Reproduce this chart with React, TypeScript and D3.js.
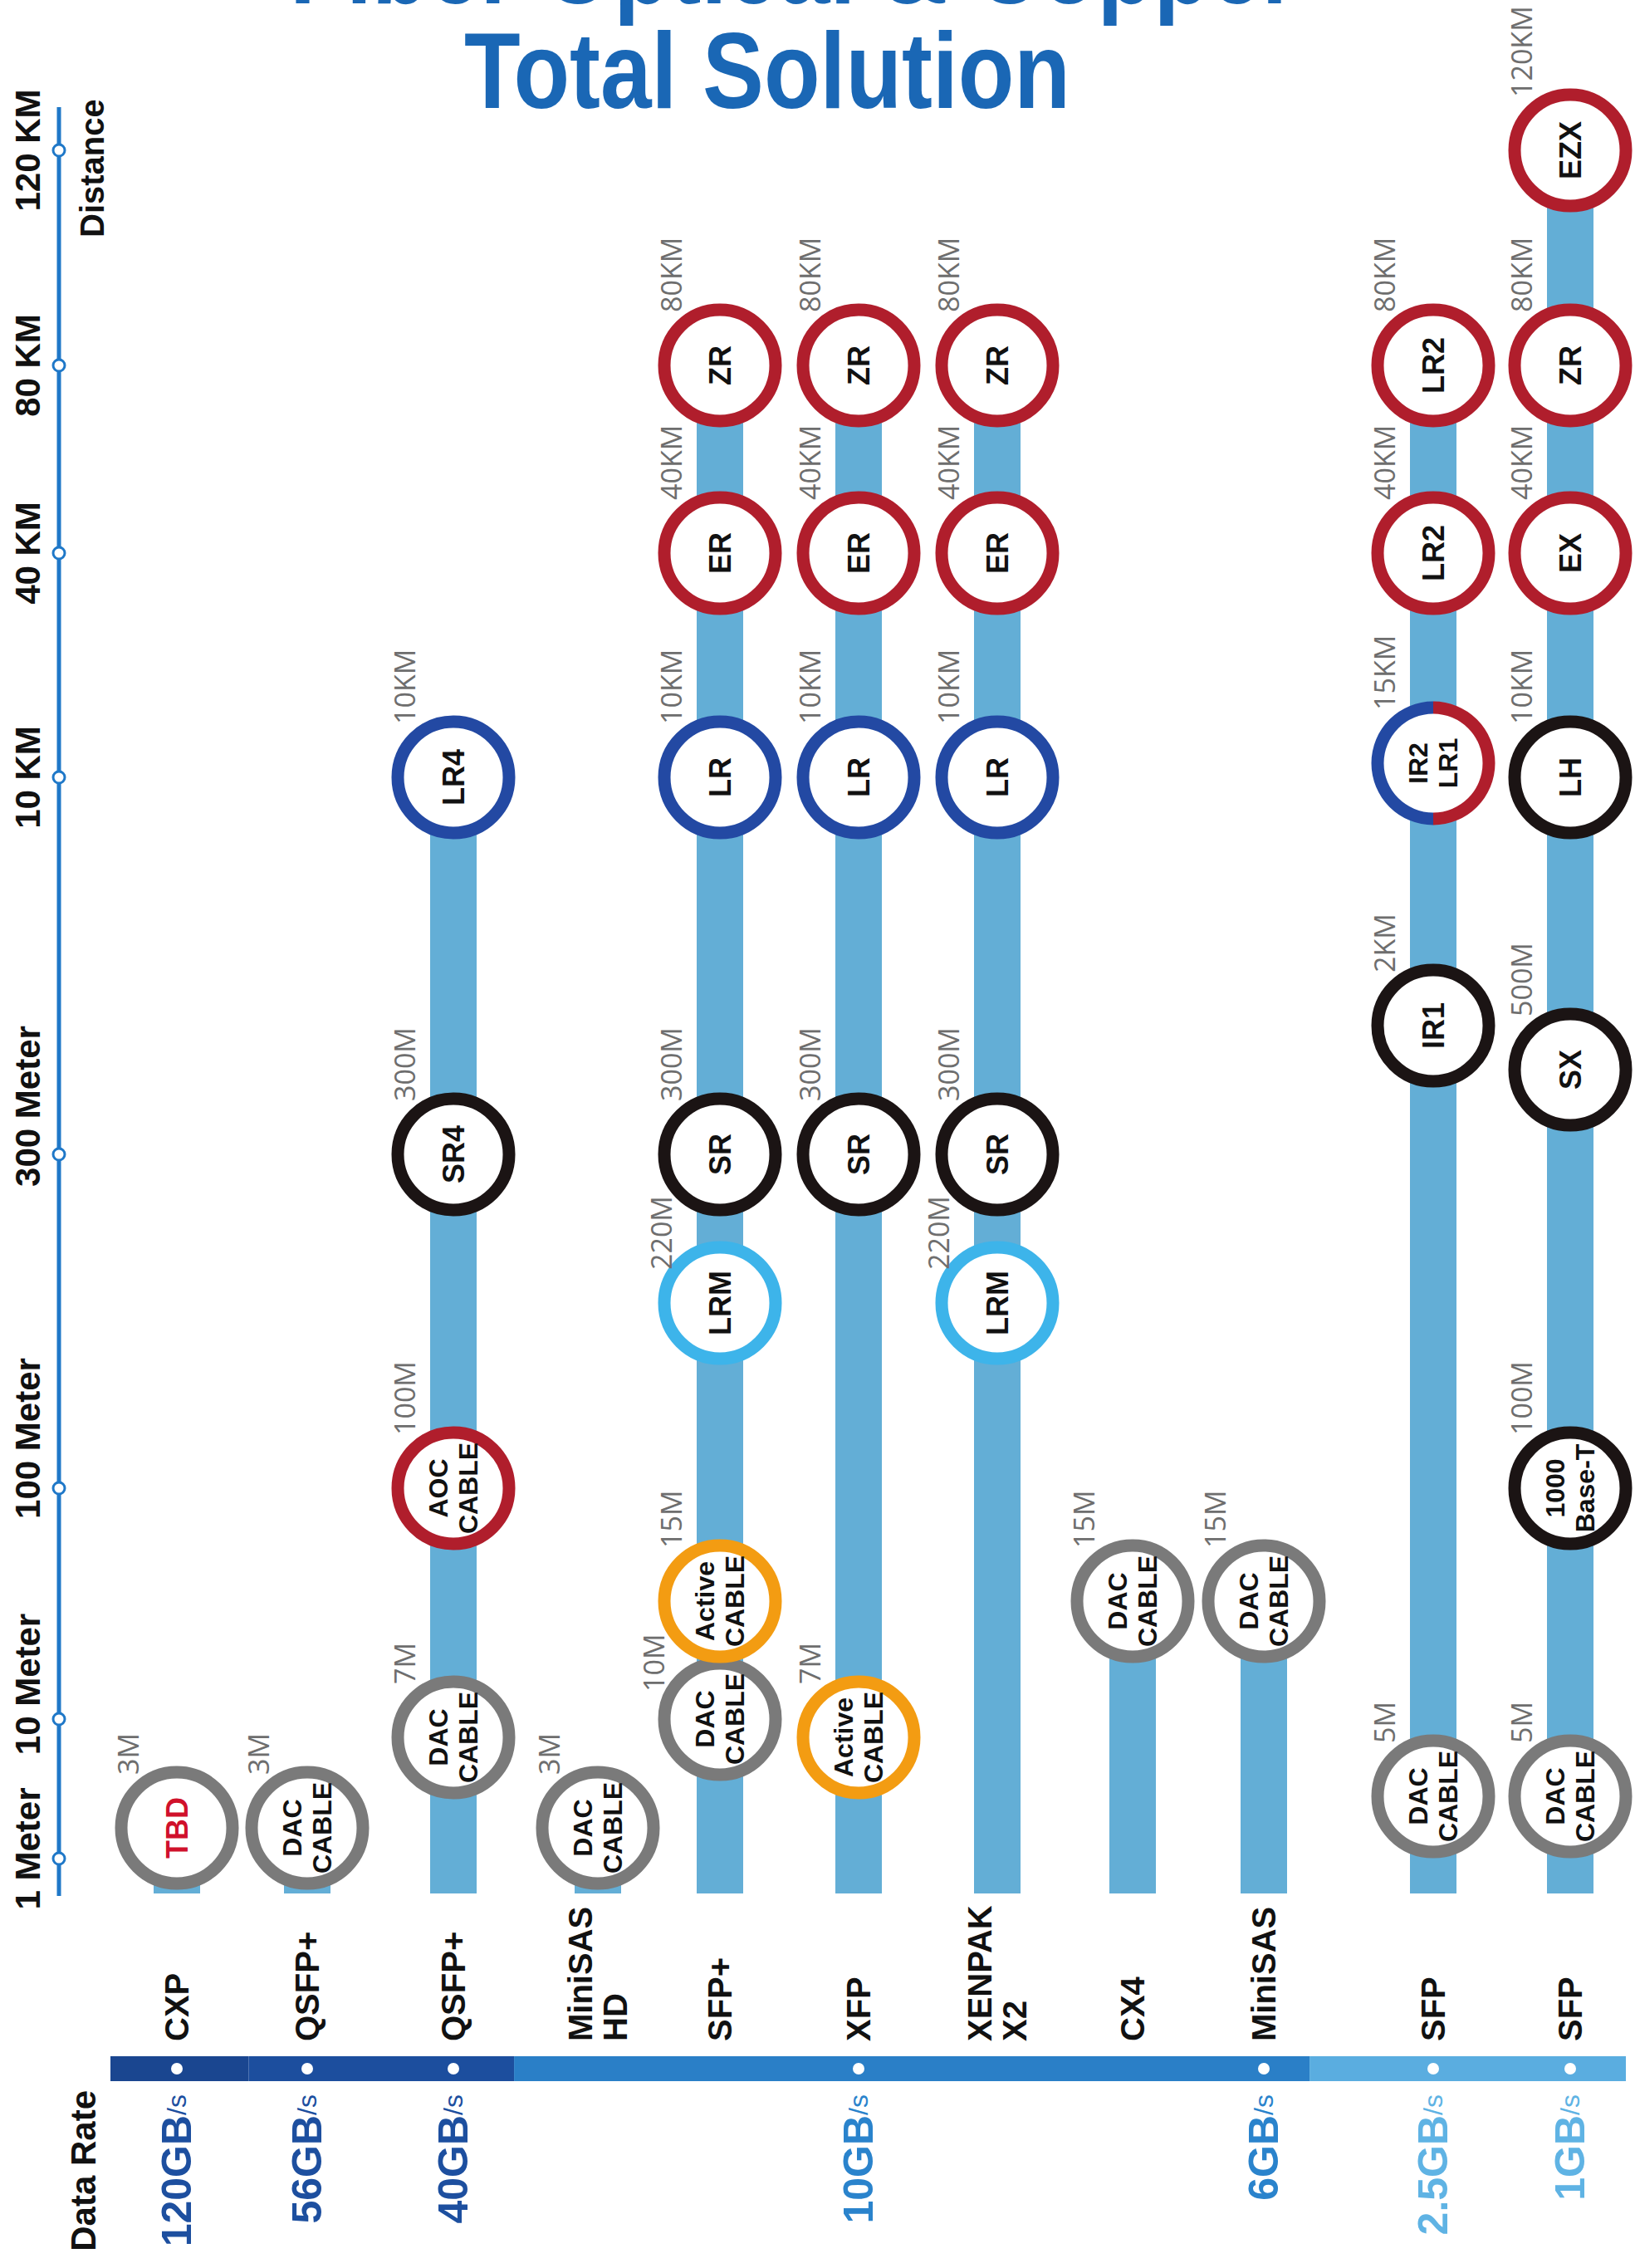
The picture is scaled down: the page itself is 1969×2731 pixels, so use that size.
import React from 'react';
import * as d3 from 'd3';

// ---------- DATA ----------
const columnIds = ['cxp', 'qsfp56', 'qsfp40', 'minisashd', 'sfpplus', 'xfp', 'xenpak', 'cx4', 'minisas', 'sfp25', 'sfp1'];
const columnLabels: string[][] = [['CXP'], ['QSFP+'], ['QSFP+'], ['MiniSAS', 'HD'], ['SFP+'], ['XFP'], ['XENPAK', 'X2'], ['CX4'], ['MiniSAS'], ['SFP'], ['SFP']];

// data rate labels: [rate, column]
const dataRates: [string, string][] = [
  ['120GB', 'cxp'], ['56GB', 'qsfp56'], ['40GB', 'qsfp40'], ['10GB', 'xfp'], ['6GB', 'minisas'], ['2.5GB', 'sfp25'], ['1GB', 'sfp1'],
];
// data-rate bar groups (first col, last col, tier)
const rateGroups: [string, string, number][] = [
  ['cxp', 'cxp', 0], ['qsfp56', 'qsfp40', 1], ['minisashd', 'minisas', 2], ['sfp25', 'sfp1', 3],
];
const rateTier: Record<string, number> = { '120GB': 0, '56GB': 0, '40GB': 0, '10GB': 1, '6GB': 1, '2.5GB': 2, '1GB': 2 };

// modules: [column, name, distance (m), range label, ring kind]
const modules: [string, string, number, string, string][] = [
  ['cxp', 'TBD', 3, '3M', 'gray'],
  ['qsfp56', 'DAC\nCABLE', 3, '3M', 'gray'],
  ['qsfp40', 'DAC\nCABLE', 7, '7M', 'gray'],
  ['qsfp40', 'AOC\nCABLE', 100, '100M', 'red'],
  ['qsfp40', 'SR4', 300, '300M', 'black'],
  ['qsfp40', 'LR4', 10000, '10KM', 'blue'],
  ['minisashd', 'DAC\nCABLE', 3, '3M', 'gray'],
  ['sfpplus', 'DAC\nCABLE', 10, '10M', 'gray'],
  ['sfpplus', 'Active\nCABLE', 15, '15M', 'orange'],
  ['sfpplus', 'LRM', 220, '220M', 'lightblue'],
  ['sfpplus', 'SR', 300, '300M', 'black'],
  ['sfpplus', 'LR', 10000, '10KM', 'blue'],
  ['sfpplus', 'ER', 40000, '40KM', 'red'],
  ['sfpplus', 'ZR', 80000, '80KM', 'red'],
  ['xfp', 'Active\nCABLE', 7, '7M', 'orange'],
  ['xfp', 'SR', 300, '300M', 'black'],
  ['xfp', 'LR', 10000, '10KM', 'blue'],
  ['xfp', 'ER', 40000, '40KM', 'red'],
  ['xfp', 'ZR', 80000, '80KM', 'red'],
  ['xenpak', 'LRM', 220, '220M', 'lightblue'],
  ['xenpak', 'SR', 300, '300M', 'black'],
  ['xenpak', 'LR', 10000, '10KM', 'blue'],
  ['xenpak', 'ER', 40000, '40KM', 'red'],
  ['xenpak', 'ZR', 80000, '80KM', 'red'],
  ['cx4', 'DAC\nCABLE', 15, '15M', 'gray'],
  ['minisas', 'DAC\nCABLE', 15, '15M', 'gray'],
  ['sfp25', 'DAC\nCABLE', 5, '5M', 'gray'],
  ['sfp25', 'IR1', 2000, '2KM', 'black'],
  ['sfp25', 'IR2\nLR1', 15000, '15KM', 'split'],
  ['sfp25', 'LR2', 40000, '40KM', 'red'],
  ['sfp25', 'LR2', 80000, '80KM', 'red'],
  ['sfp1', 'DAC\nCABLE', 5, '5M', 'gray'],
  ['sfp1', '1000\nBase-T', 100, '100M', 'black'],
  ['sfp1', 'SX', 500, '500M', 'black'],
  ['sfp1', 'LH', 10000, '10KM', 'black'],
  ['sfp1', 'EX', 40000, '40KM', 'red'],
  ['sfp1', 'ZR', 80000, '80KM', 'red'],
  ['sfp1', 'EZX', 120000, '120KM', 'red'],
];

const distanceTicks: [number, string][] = [
  [1, '1 Meter'], [10, '10 Meter'], [100, '100 Meter'], [300, '300 Meter'],
  [10000, '10 KM'], [40000, '40 KM'], [80000, '80 KM'], [120000, '120 KM'],
];

const titleTop = 'Fiber Optical & Copper';
const title = 'Total Solution';

// ---------- LAYOUT ----------
const W = 1969;
const H = 2731;
// the infographic's distance axis is non-uniform: piecewise stops
const distStops = [1, 3, 5, 7, 10, 15, 100, 220, 300, 500, 2000, 10000, 15000, 40000, 80000, 120000];
const distPos = [2238, 2201, 2163, 2092, 2070, 1928, 1792, 1569, 1390, 1288, 1235, 936, 919, 666, 440, 181];
const colPos = [213, 370, 546, 720, 867, 1034, 1201, 1364, 1522, 1726, 1891];
const groupBoundaryFrac = [0.55, 0.42, 0.27];
const tickLabelShift: Record<string, number> = { '1 Meter': -12, '10 Meter': -42, '100 Meter': -60, '300 Meter': -58 };

const y = d3.scaleLinear().domain(distStops).range(distPos);
const x = d3.scaleOrdinal<string, number>().domain(columnIds).range(colPos);

const ringColor: Record<string, string> = {
  gray: '#7a7a7a', red: '#b01e2c', blue: '#2349a3', lightblue: '#3db4ea', black: '#1b1414', orange: '#f39c12',
};
const rateBarColors = ['#1a4690', '#1c4e9e', '#2a7fc7', '#5aade0'];
const rateTextColors = ['#1d4f9f', '#2a83cc', '#5fb3e4'];

const BAR_BOTTOM = 2280;
const BAR_W = 56;
const R = 67;
const RING = 15;
const AXIS_X = 71;
const RATE_Y0 = 2476;
const RATE_H = 30;

const boldFont = "'Liberation Sans', Arial, sans-serif";
const lightFont = "'Open Sans', 'Noto Sans', sans-serif";

function rot(px: number, py: number) {
  return `translate(${px},${py}) rotate(-90)`;
}

export default function App() {
  const topByCol: Record<string, number> = {};
  modules.forEach(([c, , d]) => {
    topByCol[c] = Math.max(topByCol[c] ?? 0, d);
  });
  const sorted = [...modules].sort((a, b) => a[2] - b[2]);
  const arcBlue = d3.arc()({ innerRadius: R - RING / 2, outerRadius: R + RING / 2, startAngle: Math.PI, endAngle: 2 * Math.PI }) as string;
  const arcRed = d3.arc()({ innerRadius: R - RING / 2, outerRadius: R + RING / 2, startAngle: 0, endAngle: Math.PI }) as string;

  // gap (px) to the next ring above in the same column
  const gapAbove = (c: string, d: number) => {
    const above = modules.filter((m) => m[0] === c && m[2] > d).map((m) => y(m[2]));
    return above.length ? y(d) - Math.max(...above) : 999;
  };

  const rateBounds: number[] = [];
  for (let i = 0; i < rateGroups.length; i++) {
    const [a, b] = rateGroups[i];
    const ia = columnIds.indexOf(a);
    const ib = columnIds.indexOf(b);
    const x0 = ia === 0 ? x(a) - 80 : rateBounds[rateBounds.length - 1];
    const x1 = ib === columnIds.length - 1 ? x(b) + 67 : x(b) + groupBoundaryFrac[i] * (x(columnIds[ib + 1]) - x(b));
    if (i === 0) rateBounds.push(x0);
    rateBounds.push(x1);
  }

  return (
    <svg width={W} height={H} viewBox={`0 0 ${W} ${H}`} style={{ position: 'absolute', left: 0, top: 0, background: '#fff' }}>
      <rect x={0} y={0} width={W} height={H} fill="#fff" />
      {/* titles */}
      <text x={349} y={4} fontFamily={boldFont} fontWeight={700} fontSize={130} fill="#1a67b5" textLength={1214} lengthAdjust="spacingAndGlyphs">{titleTop}</text>
      <text x={559} y={130} fontFamily={boldFont} fontWeight={700} fontSize={130} fill="#1a67b5" textLength={730} lengthAdjust="spacingAndGlyphs">{title}</text>

      {/* distance axis */}
      <line x1={AXIS_X} x2={AXIS_X} y1={129} y2={2283} stroke="#1f78c8" strokeWidth={5} />
      {distanceTicks.map(([v, label]) => (
        <g key={label}>
          <circle cx={AXIS_X} cy={y(v)} r={7} fill="#fff" stroke="#1f78c8" strokeWidth={3} />
          <text transform={rot(48, y(v) + (tickLabelShift[label] ?? 0))} textAnchor="middle" fontFamily={boldFont} fontWeight={700} fontSize={42} fill="#111">{label}</text>
        </g>
      ))}
      <text transform={rot(125, 286)} textAnchor="start" fontFamily={boldFont} fontWeight={700} fontSize={40} fill="#111">Distance</text>

      {/* column bars */}
      {columnIds.map((c) => (
        <rect key={c} x={x(c) - BAR_W / 2} y={y(topByCol[c])} width={BAR_W} height={BAR_BOTTOM - y(topByCol[c])} fill="#63aed6" />
      ))}

      {/* module rings */}
      {sorted.map(([c, name, d, , kind], i) => {
        const cx = x(c);
        const cy = y(d);
        const lines = name.split('\n');
        const fs = lines.length > 1 ? 32 : 36;
        return (
          <g key={i}>
            {kind === 'split' ? (
              <g transform={`translate(${cx},${cy})`}>
                <circle r={R} fill="#fff" />
                <path d={arcBlue} fill="#2349a3" />
                <path d={arcRed} fill="#b01e2c" />
              </g>
            ) : (
              <circle cx={cx} cy={cy} r={R} fill="#fff" stroke={ringColor[kind]} strokeWidth={RING} />
            )}
            <text transform={rot(cx, cy)} textAnchor="middle" dominantBaseline="central" fontFamily={boldFont} fontWeight={700} fontSize={fs} fill={name === 'TBD' ? '#d0112b' : '#111'}>
              {lines.map((ln, j) => (
                <tspan key={j} x={0} y={(j - (lines.length - 1) / 2) * 36}>{ln}</tspan>
              ))}
            </text>
          </g>
        );
      })}

      {/* range labels, on top */}
      {sorted.map(([c, , d, rl], i) => {
        const cx = x(c);
        const cy = y(d);
        const g = gapAbove(c, d);
        const dx = g < 150 ? -67 : g < 190 ? -58 : -46;
        const dy = g < 150 ? -33 : g < 190 ? -40 : -64;
        return (
          <text key={'rl' + i} transform={rot(cx + dx, cy + dy)} textAnchor="start" fontFamily={lightFont} fontSize={34} fill="#6e6e6e">{rl}</text>
        );
      })}

      {/* connector labels */}
      {columnIds.map((c, i) => {
        const lines = columnLabels[i];
        return (
          <text key={c} transform={rot(x(c), 2458)} textAnchor="start" dominantBaseline="central" fontFamily={boldFont} fontWeight={700} fontSize={40} fill="#111">
            {lines.map((ln, j) => (
              <tspan key={j} x={0} y={(j - (lines.length - 1) / 2) * 42}>{ln}</tspan>
            ))}
          </text>
        );
      })}

      {/* data rate bar */}
      {rateGroups.map(([, , t], i) => (
        <rect key={i} x={rateBounds[i]} y={RATE_Y0} width={rateBounds[i + 1] - rateBounds[i]} height={RATE_H} fill={rateBarColors[t]} />
      ))}
      {dataRates.map(([r, c]) => (
        <g key={r}>
          <circle cx={x(c)} cy={RATE_Y0 + RATE_H / 2} r={7} fill="#fff" />
          <text transform={rot(x(c), 2522)} textAnchor="end" dominantBaseline="central" fontFamily={boldFont} fontWeight={700} fontSize={50} fill={rateTextColors[rateTier[r]]}>
            {r}<tspan fontSize={32} fontWeight={400}>/s</tspan>
          </text>
        </g>
      ))}
      <text transform={rot(100, 2517)} textAnchor="end" dominantBaseline="central" fontFamily={boldFont} fontWeight={700} fontSize={42} fill="#111">Data Rate</text>
    </svg>
  );
}
